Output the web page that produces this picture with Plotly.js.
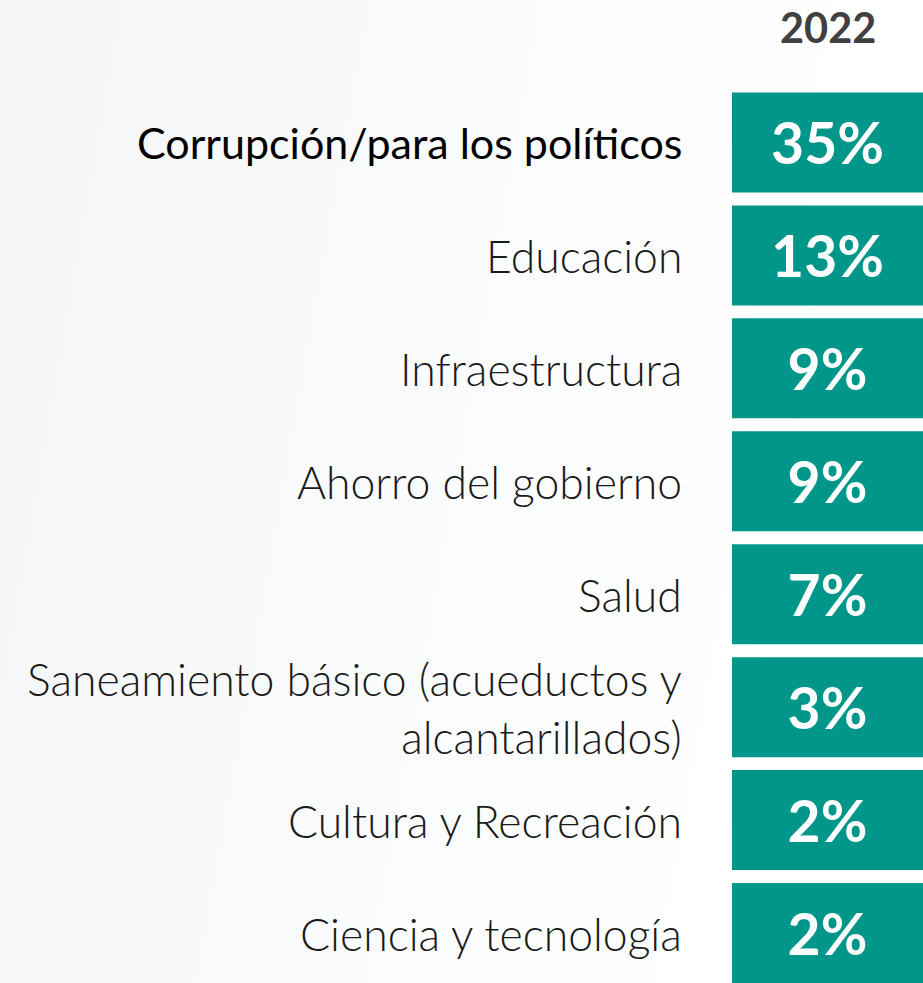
<!DOCTYPE html>
<html>
<head>
<meta charset="utf-8">
<script src="https://cdn.plot.ly/plotly-3.0.1.min.js"></script>
<style>
  html, body { margin: 0; padding: 0; }
  body { width: 923px; height: 983px; overflow: hidden;
         background: linear-gradient(100deg, #f3f5f7 0%, #fafbfc 45%, #ffffff 80%); }
  #chart { width: 923px; height: 983px; }
</style>
</head>
<body>
<div id="chart"></div>
<script>
const categories = [
  "Corrupción/para los políticos",
  "Educación",
  "Infraestructura",
  "Ahorro del gobierno",
  "Salud",
  "Saneamiento básico (acueductos y<br>alcantarillados)",
  "Cultura y Recreación",
  "Ciencia y tecnología"
];
const values = [35, 13, 9, 9, 7, 3, 2, 2];
const columnLabel = "2022";

const teal = "#00978A";
const labelFont = "Lato, 'Open Sans', sans-serif";

const trace = {
  type: "bar",
  orientation: "h",
  y: categories,
  x: categories.map(() => 1),
  width: 0.885,
  marker: { color: teal, line: { width: 0 } },
  text: values.map(v => v + "%"),
  textposition: "inside",
  insidetextanchor: "middle",
  textangle: 0,
  constraintext: "none",
  textfont: { family: labelFont, size: 57, color: "#ffffff", weight: 700 },
  hoverinfo: "skip"
};

const annotations = categories.map((c, i) => ({
  xref: "paper", yref: "y",
  x: 0, y: c,
  xanchor: "right", yanchor: "middle",
  xshift: -48,
  align: "right",
  showarrow: false,
  text: c,
  font: { family: labelFont, size: i === 0 ? 43 : 44.5, color: i === 0 ? "#000000" : "#1a1a1a", weight: i === 0 ? 400 : 300 }
}));

annotations.push({
  xref: "x", yref: "paper",
  x: 0.5, y: 1.0663,
  xanchor: "center", yanchor: "middle",
  showarrow: false,
  text: "<b>" + columnLabel + "</b>",
  font: { family: labelFont, size: 41.5, color: "#404040" }
});

const layout = {
  width: 923, height: 983,
  margin: { l: 732, r: 0, t: 85.5, b: 0, pad: 0 },
  paper_bgcolor: "rgba(0,0,0,0)",
  plot_bgcolor: "rgba(0,0,0,0)",
  showlegend: false,
  xaxis: { range: [0, 1], visible: false, fixedrange: true },
  yaxis: {
    type: "category",
    range: [7.4425, -0.5],
    showticklabels: false,
    showgrid: false, zeroline: false, showline: false,
    fixedrange: true
  },
  annotations: annotations
};

Plotly.newPlot("chart", [trace], layout, { displayModeBar: false, staticPlot: true });
</script>
</body>
</html>
